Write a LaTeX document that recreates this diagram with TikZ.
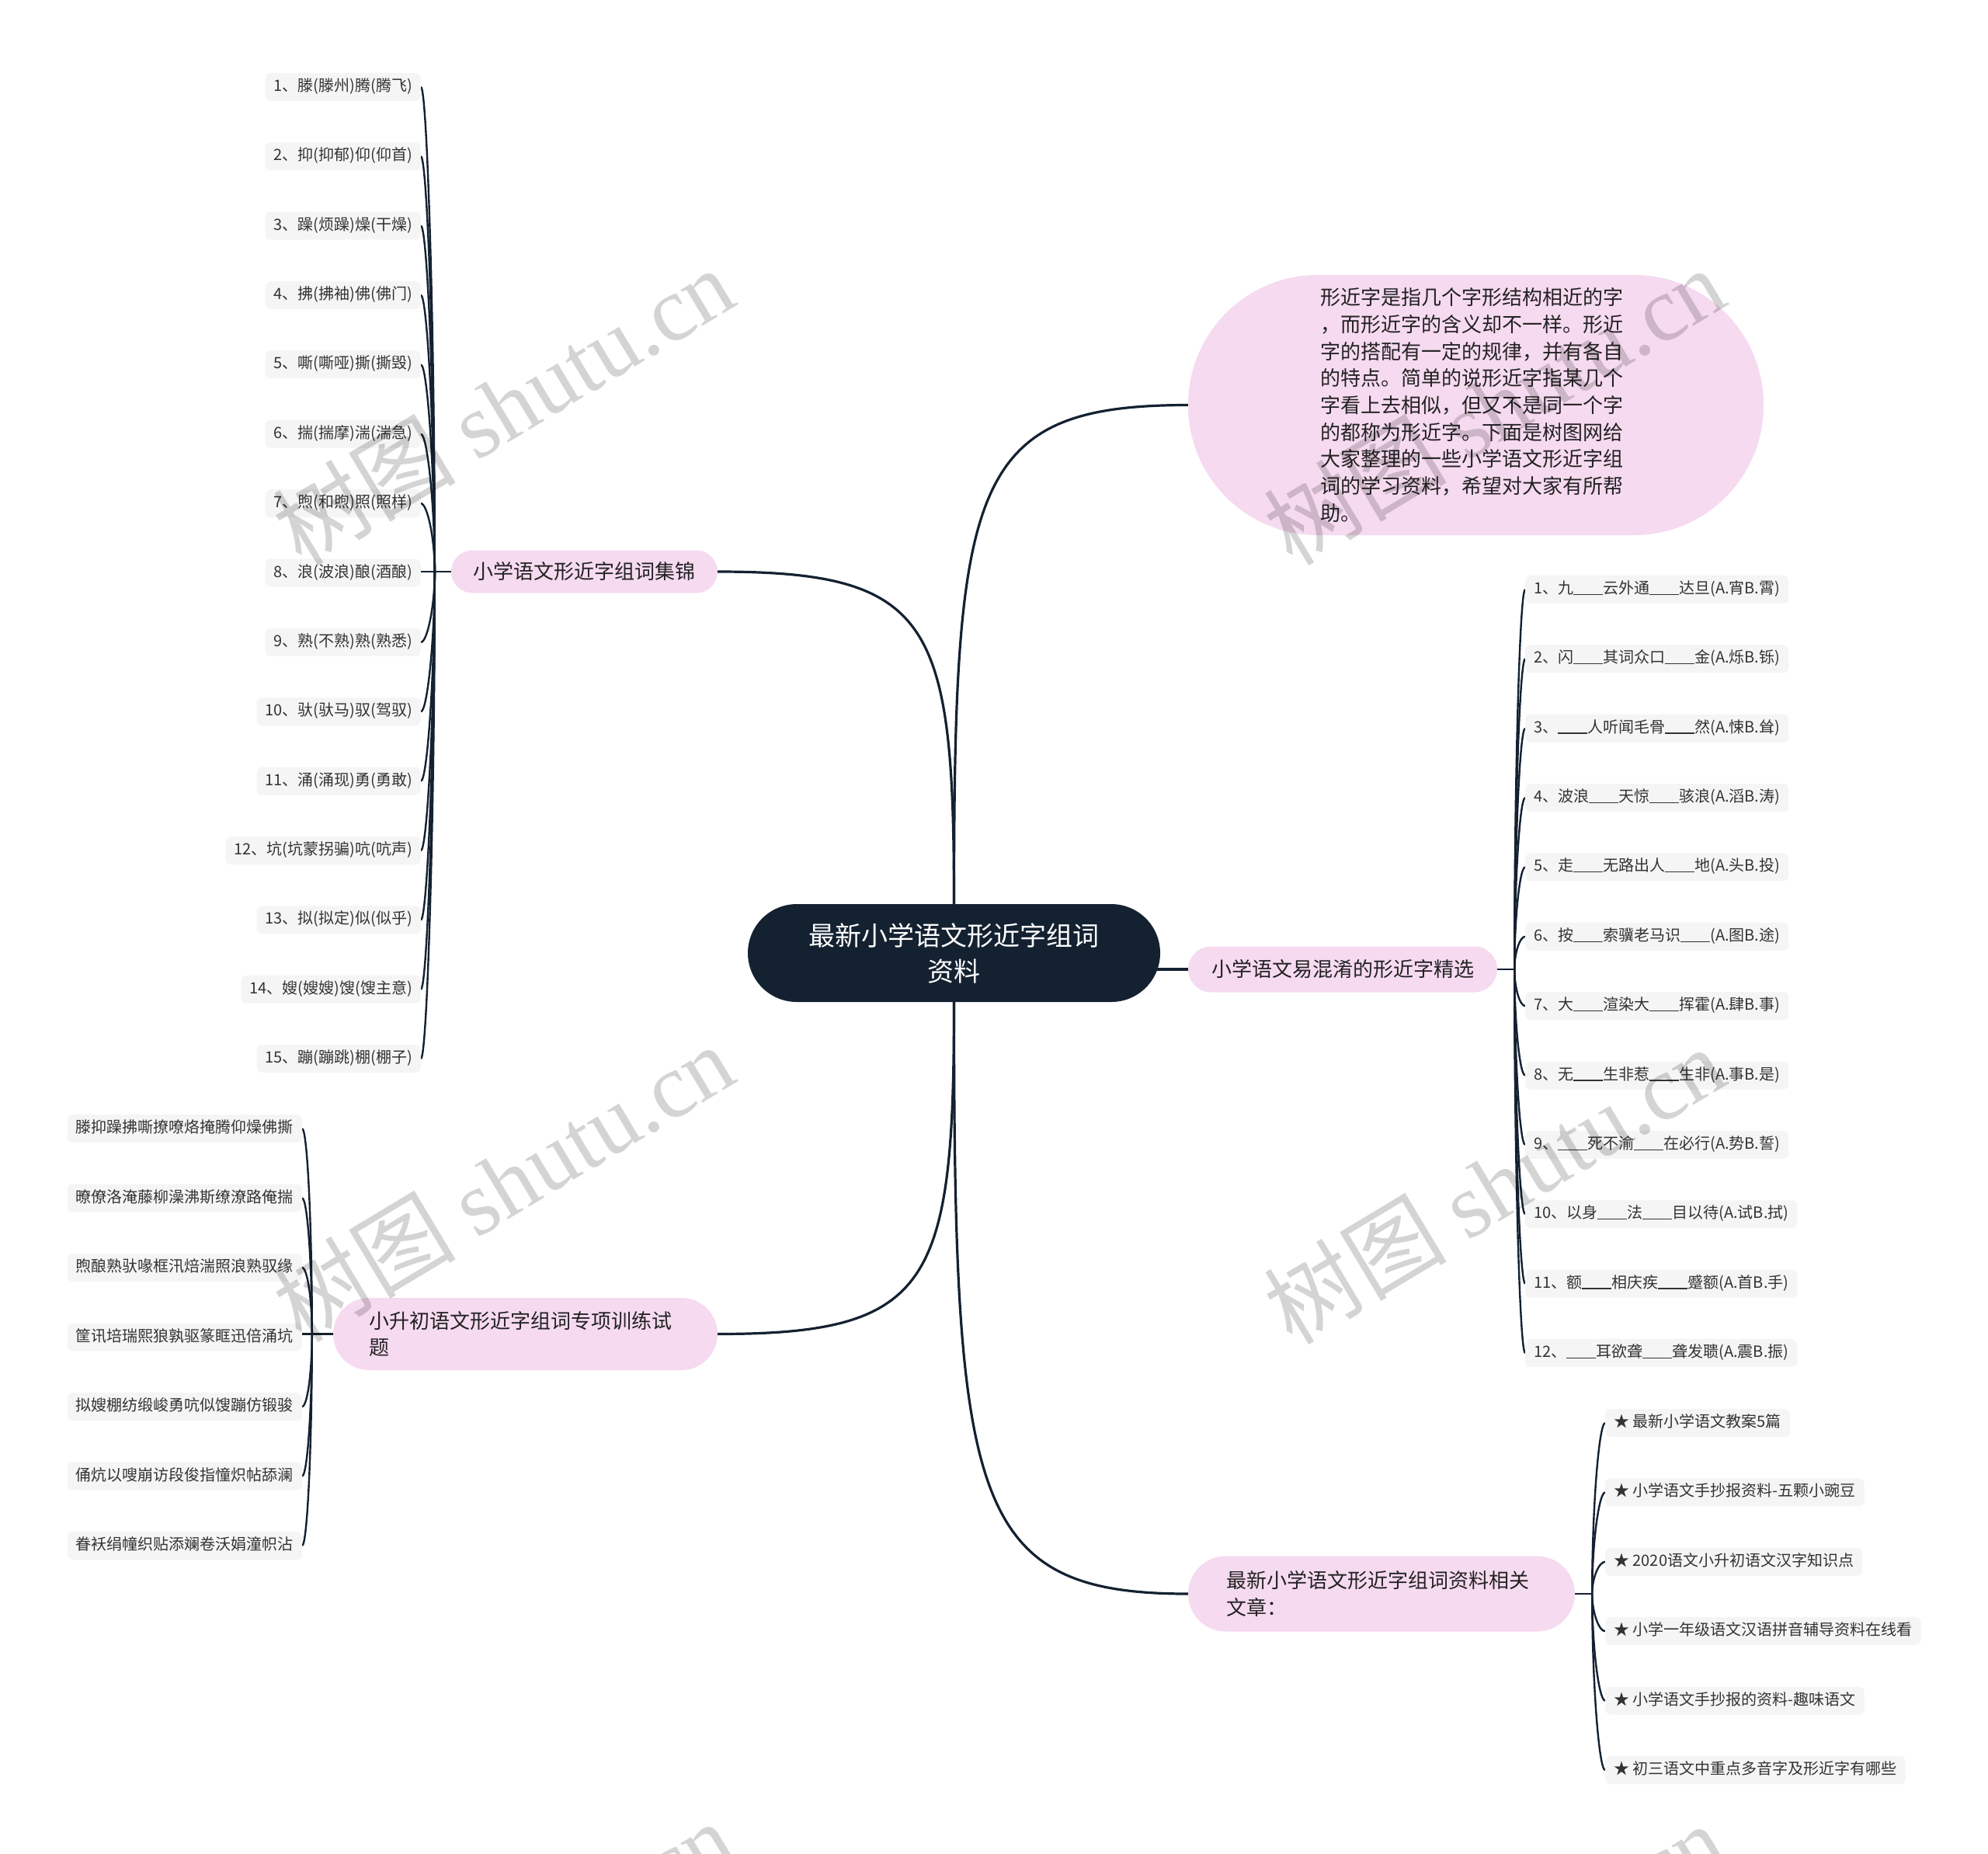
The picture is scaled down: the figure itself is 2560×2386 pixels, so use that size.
\documentclass[tikz,border=0pt]{standalone}
\usepackage{fontspec}
\setmainfont{Noto Sans CJK SC}
\newfontfamily\wmlatin{Liberation Serif}
\usetikzlibrary{calc}
\definecolor{navy}{HTML}{142131}
\definecolor{pinkfill}{HTML}{F6DAF0}
\definecolor{leafgray}{HTML}{F5F5F5}
\definecolor{leaftext}{HTML}{333333}
\definecolor{branchtext}{HTML}{222222}
\newcommand\blankline{\rule[-1.5pt]{38pt}{1.3pt}}
\pgfdeclarelayer{bg}
\pgfsetlayers{bg,main}
\begin{document}
\begin{tikzpicture}[x=1pt,y=-1pt,
 leaf/.style={fill=leafgray, rounded corners=7pt, inner xsep=11pt, inner ysep=0pt, minimum height=36pt, text height=15pt, text depth=4pt, text=leaftext, font=\fontsize{20}{24}\selectfont},
 branchbox/.style={fill=pinkfill, text=branchtext, inner sep=0pt, font=\fontsize{26}{34.7}\selectfont},
 centerbox/.style={fill=navy, text=white, inner sep=0pt, rounded corners=63pt, minimum width=531pt, minimum height=126pt, text width=400pt, align=center, font=\fontsize{34}{46}\selectfont},
 mainlink/.style={draw=navy, line width=3.2pt},
 leaflink/.style={draw=navy, line width=2.4pt},
 watermark/.style={rotate=31, text=black, text opacity=0.17, inner sep=0pt, font=\fontsize{118}{118}\selectfont}
]
\useasboundingbox (0,0) rectangle (2560,2386);

% centre
\node[centerbox] (cen) at (1228.5,1227) {最新小学语文形近字组词\\资料};

% branches
\node[branchbox, rounded corners=27.5pt, minimum width=343pt, minimum height=55pt] (b1) at (752.5,736) {小学语文形近字组词集锦};
\node[branchbox, rounded corners=46.5pt, minimum width=495pt, minimum height=93pt, text width=403pt, align=left] (b2) at (676.5,1717.5) {小升初语文形近字组词专项训练试\\题};
\node[branchbox, rounded corners=167pt, minimum width=741pt, minimum height=335pt, text width=401pt, align=left] (desc) at (1900.5,521.5) {形近字是指几个字形结构相近的字\\，而形近字的含义却不一样。形近\\字的搭配有一定的规律，并有各自\\的特点。简单的说形近字指某几个\\字看上去相似，但又不是同一个字\\的都称为形近字。下面是树图网给\\大家整理的一些小学语文形近字组\\词的学习资料，希望对大家有所帮\\助。};
\node[branchbox, rounded corners=29.5pt, minimum width=398pt, minimum height=59pt] (qz) at (1729,1248) {小学语文易混淆的形近字精选};
\node[branchbox, rounded corners=48.5pt, minimum width=498pt, minimum height=97pt, text width=400pt, align=left] (art) at (1779,2052) {最新小学语文形近字组词资料相关\\文章：};

% junction points of the leaf bundles
\coordinate (j1) at ($(b1.west)+(-21,0)$);
\coordinate (j2) at ($(b2.west)+(-27,0)$);
\coordinate (j3) at ($(qz.east)+(22,0)$);
\coordinate (j4) at ($(art.east)+(22,0)$);

% leaves group 1
\foreach \t [count=\i] in {1、滕(滕州)腾(腾飞),2、抑(抑郁)仰(仰首),3、躁(烦躁)燥(干燥),4、拂(拂袖)佛(佛门),5、嘶(嘶哑)撕(撕毁),6、揣(揣摩)湍(湍急),7、煦(和煦)照(照样),8、浪(波浪)酿(酒酿),9、熟(不熟)熟(熟悉),10、驮(驮马)驭(驾驭),11、涌(涌现)勇(勇敢),12、坑(坑蒙拐骗)吭(吭声),13、拟(拟定)似(似乎),14、嫂(嫂嫂)馊(馊主意),15、蹦(蹦跳)棚(棚子)}
  {\node[leaf, anchor=east] (a\i) at (542,{112+89.36*(\i-1)}) {\t};}

% leaves group 2
\foreach \t [count=\i] in {滕抑躁拂嘶撩嘹烙掩腾仰燥佛撕,暸僚洛淹藤柳澡沸斯缭潦路俺揣,煦酿熟驮喙框汛焙湍照浪熟驭缘,筐讯培瑞熙狼孰驱篆眶迅倍涌坑,拟嫂棚纺缎峻勇吭似馊蹦仿锻骏,俑炕以嗖崩访段俊指憧炽帖舔澜,眷袄绢幢织贴添斓卷沃娟潼帜沾}
  {\node[leaf, anchor=east] (c\i) at (389,{1453+89.5*(\i-1)}) {\t};}

% leaves quiz
\foreach \t [count=\i] in {1、九\blankline 云外通\blankline 达旦(A.宵B.霄),2、闪\blankline 其词众口\blankline 金(A.烁B.铄),3、\blankline 人听闻毛骨\blankline 然(A.悚B.耸),4、波浪\blankline 天惊\blankline 骇浪(A.滔B.涛),5、走\blankline 无路出人\blankline 地(A.头B.投),6、按\blankline 索骥老马识\blankline (A.图B.途),7、大\blankline 渲染大\blankline 挥霍(A.肆B.事),8、无\blankline 生非惹\blankline 生非(A.事B.是),9、\blankline 死不渝\blankline 在必行(A.势B.誓),10、以身\blankline 法\blankline 目以待(A.试B.拭),11、额\blankline 相庆疾\blankline 蹙额(A.首B.手),12、\blankline 耳欲聋\blankline 聋发聩(A.震B.振)}
  {\node[leaf, anchor=west] (q\i) at (1964,{759+89.36*(\i-1)}) {\t};}

% leaves articles
\foreach \t [count=\i] in {★ 最新小学语文教案5篇,★ 小学语文手抄报资料-五颗小豌豆,★ 2020语文小升初语文汉字知识点,★ 小学一年级语文汉语拼音辅导资料在线看,★ 小学语文手抄报的资料-趣味语文,★ 初三语文中重点多音字及形近字有哪些}
  {\node[leaf, anchor=west] (r\i) at (2067,{1832+89.4*(\i-1)}) {\t};}

\begin{pgfonlayer}{bg}
\fill[white] (0,0) rectangle (2560,2386);
% main links
\draw[mainlink] (cen.north) .. controls ($(cen.north)+(0,-544)$) and ($(desc.west)+(-280,0)$) .. (desc.west);
\draw[mainlink] (cen.north) .. controls ($(cen.north)+(0,-364)$) and ($(b1.east)+(276,0)$) .. (b1.east);
\draw[mainlink] (cen.south) .. controls ($(cen.south)+(0,364)$) and ($(b2.east)+(276,0)$) .. (b2.east);
\draw[mainlink] (cen.south) .. controls ($(cen.south)+(0,645)$) and ($(art.west)+(-280,0)$) .. (art.west);
\draw[mainlink] ($(cen.east |- qz.west)+(-12,0)$) -- (qz.west);
% leaf links
\draw[leaflink] (b1.west) -- (b1.west -| a8.east);
\foreach \i in {1,...,7,9,10,11,12,13,14,15}
  {\draw[leaflink] (j1) .. controls ($(j1)!0.5!(j1 |- a\i.east)$) and ($(a\i.east)+(8,0)$) .. (a\i.east);}
\draw[leaflink] (b2.west) -- (b2.west -| c4.east);
\foreach \i in {1,2,3,5,6,7}
  {\draw[leaflink] (j2) .. controls ($(j2)!0.5!(j2 |- c\i.east)$) and ($(c\i.east)+(7,0)$) .. (c\i.east);}
\draw[leaflink] (qz.east) -- (j3);
\foreach \i in {1,...,12}
  {\draw[leaflink] (j3) .. controls ($(j3)!0.5!(j3 |- q\i.west)$) and ($(q\i.west)+(-7,0)$) .. (q\i.west);}
\draw[leaflink] (art.east) -- (j4);
\foreach \i in {1,...,6}
  {\draw[leaflink] (j4) .. controls ($(j4)!0.5!(j4 |- r\i.west)$) and ($(r\i.west)+(-8,0)$) .. (r\i.west);}
\end{pgfonlayer}

% watermarks
\node[watermark] (w1) at (648,522) {树图 {\wmlatin shutu.cn}};
\node[watermark] (w2) at (648,1522) {树图 {\wmlatin shutu.cn}};
\node[watermark] (w3) at (1924,522) {树图 {\wmlatin shutu.cn}};
\node[watermark] (w4) at (1924,1525) {树图 {\wmlatin shutu.cn}};
\node[watermark] (w5) at (648,2522) {树图 {\wmlatin shutu.cn}};
\node[watermark] (w6) at (1924,2525) {树图 {\wmlatin shutu.cn}};
\end{tikzpicture}
\end{document}
